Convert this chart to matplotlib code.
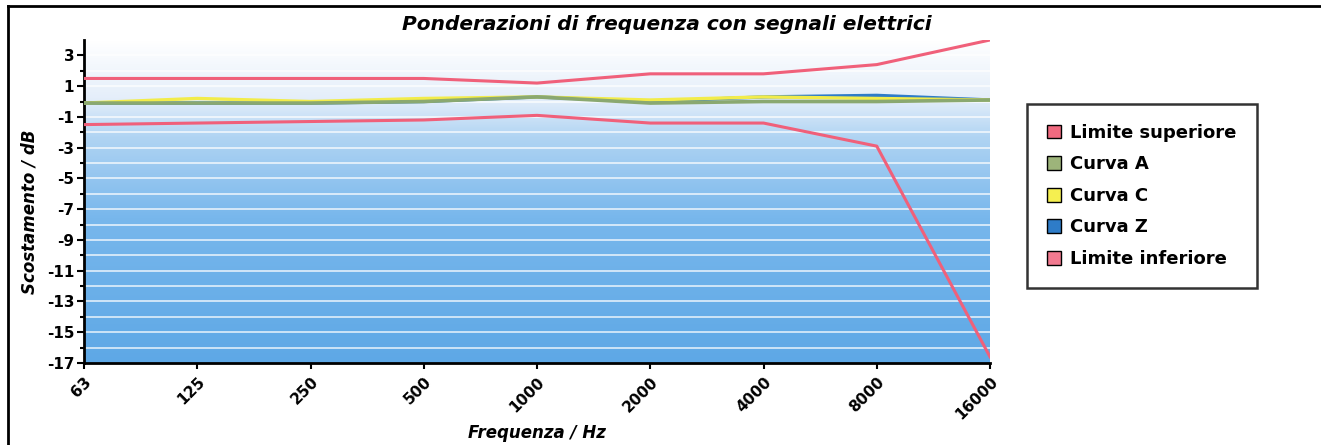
import numpy as np
import matplotlib
matplotlib.use('Agg')
import matplotlib.pyplot as plt
from matplotlib.colors import LinearSegmentedColormap
from matplotlib.patches import Patch
from matplotlib.lines import Line2D

# Data
freqs = ['63', '125', '250', '500', '1000', '2000', '4000', '8000', '16000']
limite_superiore = [1.5, 1.5, 1.5, 1.5, 1.2, 1.8, 1.8, 2.4, 4.0]
curva_a = [-0.1, -0.1, -0.1, 0.0, 0.3, -0.1, 0.0, 0.0, 0.1]
curva_c = [-0.1, 0.2, 0.0, 0.2, 0.3, 0.1, 0.3, 0.2, 0.1]
curva_z = [-0.1, -0.1, -0.1, 0.0, 0.3, 0.0, 0.3, 0.4, 0.1]
limite_inferiore = [-1.5, -1.4, -1.3, -1.2, -0.9, -1.4, -1.4, -2.9, -16.6]

plt.rcParams['font.family'] = ['DejaVu Sans']
plt.rcParams['axes.unicode_minus'] = False

fig = plt.figure(figsize=(13.21, 4.45), dpi=100)
ax = fig.add_axes([84 / 1321, 82 / 445, 906 / 1321, 323 / 445])

x = np.arange(len(freqs))
ymin, ymax = -17, 4

# gradient background: white at the top, blue at the bottom
cmap = LinearSegmentedColormap.from_list(
    'bg', [(0.0, '#5ea8e6'), (0.45, '#78b7ec'), (0.7, '#b0d4f3'),
           (0.82, '#e4eefa'), (1.0, '#ffffff')])
grad = np.linspace(0, 1, 256).reshape(-1, 1)
ax.imshow(grad, cmap=cmap, origin='lower', aspect='auto',
          extent=[x[0], x[-1], ymin, ymax], zorder=0)

for yv in range(-16, 4):
    ax.axhline(yv, color='white', lw=1.2, alpha=0.8, zorder=1)

ax.plot(x, limite_superiore, color='#f0607a', lw=2.2, zorder=3)
ax.plot(x, curva_z, color='#2e7cc8', lw=2.4, zorder=3)
ax.plot(x, curva_c, color='#f2ec4a', lw=2.4, zorder=3)
ax.plot(x, curva_a, color='#8aa870', lw=2.6, zorder=4)
ax.plot(x, limite_inferiore, color='#f0607a', lw=2.2, zorder=3)

ax.set_xlim(x[0], x[-1])
ax.set_ylim(ymin, ymax)
ax.set_xticks(x)
ax.set_xticklabels(freqs, rotation=45, ha='right', rotation_mode='anchor',
                   fontsize=11, fontweight='bold')
ax.set_yticks(range(-17, 4, 2))
ax.set_yticks(range(-16, 4, 2), minor=True)
ax.tick_params(axis='y', labelsize=11, width=1.5, length=5, pad=2)
ax.tick_params(axis='y', which='minor', width=1.5, length=3)
ax.tick_params(axis='x', width=1.5, length=4, pad=4)
for lbl in ax.get_yticklabels():
    lbl.set_fontweight('bold')

for s in ['top', 'right']:
    ax.spines[s].set_visible(False)
for s in ['left', 'bottom']:
    ax.spines[s].set_linewidth(2)

fig.text(667 / 1321, 1 - 24 / 445, 'Ponderazioni di frequenza con segnali elettrici',
         ha='center', va='center', fontsize=14.5, fontweight='bold',
         fontstyle='italic')
fig.text(537 / 1321, 1 - 433 / 445, 'Frequenza / Hz', ha='center', va='center',
         fontsize=12, fontweight='bold', fontstyle='italic')
fig.text(30 / 1321, 1 - 212 / 445, 'Scostamento / dB', ha='center', va='center',
         rotation=90, fontsize=12, fontweight='bold', fontstyle='italic')

handles = [Patch(facecolor='#f06a80', edgecolor='black', label='Limite superiore'),
           Patch(facecolor='#9db47a', edgecolor='black', label='Curva A'),
           Patch(facecolor='#f5ef50', edgecolor='black', label='Curva C'),
           Patch(facecolor='#2e7cc8', edgecolor='black', label='Curva Z'),
           Patch(facecolor='#f27a90', edgecolor='black', label='Limite inferiore')]
leg = fig.legend(handles=handles, loc='upper left',
                 bbox_to_anchor=(1027 / 1321, 1 - 104 / 445),
                 frameon=True, fancybox=False, edgecolor='black',
                 prop={'weight': 'bold', 'size': 13}, handlelength=0.8,
                 handleheight=0.8, handletextpad=0.5, labelspacing=0.75,
                 borderpad=1.1, borderaxespad=0)
leg.get_frame().set_linewidth(1.8)

# outer frame of the chart
fig.add_artist(Line2D([8 / 1321, 1320 / 1321], [1 - 6 / 445, 1 - 6 / 445],
                      color='black', lw=2, transform=fig.transFigure))
fig.add_artist(Line2D([8 / 1321, 8 / 1321], [0, 1 - 6 / 445],
                      color='black', lw=2, transform=fig.transFigure))

fig.savefig('out.png', dpi=100)
